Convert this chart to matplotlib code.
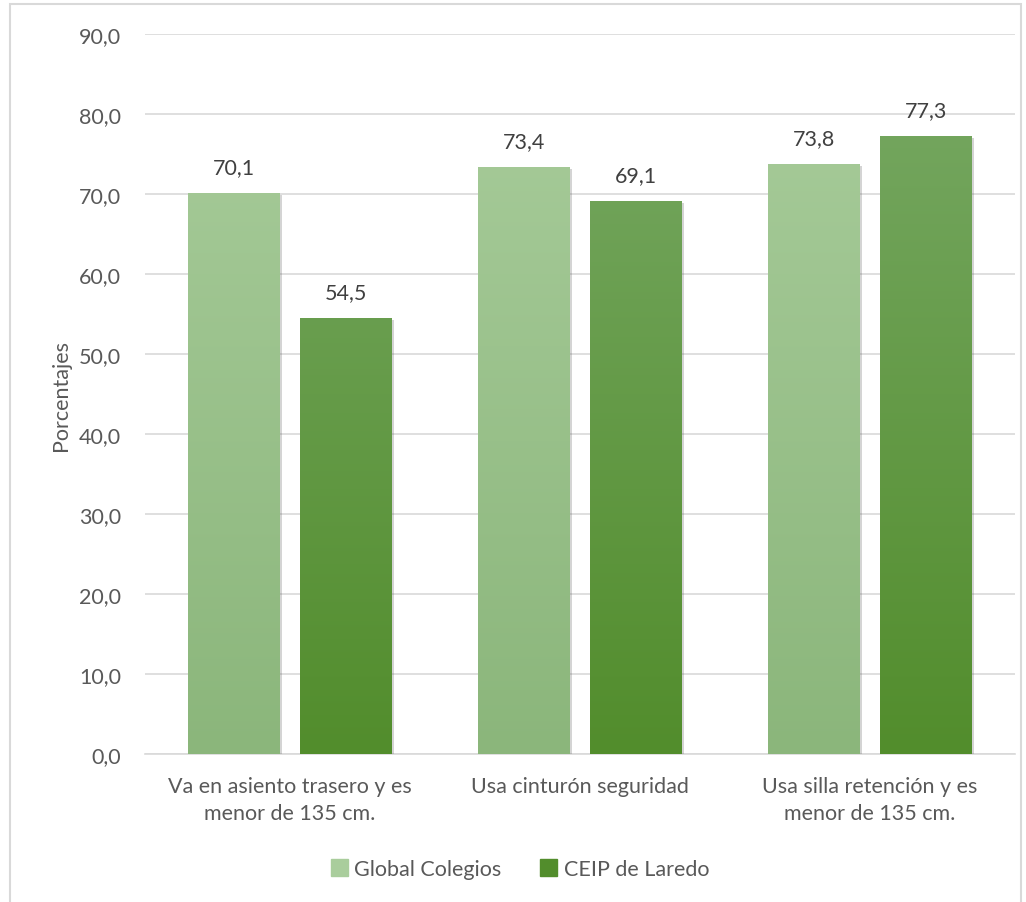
import numpy as np
import matplotlib
matplotlib.use("Agg")
import matplotlib.pyplot as plt
import matplotlib.patheffects as pe
from matplotlib.colors import LinearSegmentedColormap
from matplotlib.patches import Rectangle

plt.rcParams['font.family'] = ['Lato', 'DejaVu Sans']

categories = ["Va en asiento trasero y es\nmenor de 135 cm.",
              "Usa cinturón seguridad",
              "Usa silla retención y es\nmenor de 135 cm."]
series_names = ["Global Colegios", "CEIP de Laredo"]
global_vals = [70.1, 73.4, 73.8]
laredo_vals = [54.5, 69.1, 77.3]
yticks = [0, 10, 20, 30, 40, 50, 60, 70, 80, 90]

text_col = "#595959"
light_top, light_bot = "#A9CD9C", "#8BB67B"
dark_top, dark_bot = "#78A965", "#528D2C"
fs = 15.5

fig = plt.figure(figsize=(10.26, 9.03), dpi=100)
ax = fig.add_axes([0.1413, 0.1639, 0.848, 0.7973])

# outer frame
fig.patches.append(Rectangle((10 / 1026, -0.1), 1011 / 1026, 1.1 - 5 / 903,
                             transform=fig.transFigure, fill=False,
                             edgecolor="#D9D9D9", linewidth=1.5))

x = np.arange(len(categories))
w = 0.317
off = 0.194


def grad_bars(xs, vals, top, bot, label):
    bars = ax.bar(xs, vals, w, color=bot, label=label, zorder=3,
                  path_effects=[pe.SimplePatchShadow(offset=(1.5, -1.5), alpha=0.25,
                                                     shadow_rgbFace="#555555"),
                                pe.Normal()])
    cmap = LinearSegmentedColormap.from_list("g", [bot, top])
    grad = np.linspace(0, 1, 256).reshape(-1, 1)
    for b in bars:
        x0 = b.get_x()
        im = ax.imshow(grad, cmap=cmap, origin="lower", aspect="auto",
                       extent=[x0, x0 + b.get_width(), 0, 90], zorder=4)
        im.set_clip_path(b)
    for xi, v in zip(xs, vals):
        ax.text(xi, v + 2.0, f"{v:.1f}".replace(".", ","), ha="center",
                va="bottom", fontsize=fs, color="#404040", zorder=5)
    return bars


grad_bars(x - off, global_vals, light_top, light_bot, series_names[0])
grad_bars(x + off, laredo_vals, dark_top, dark_bot, series_names[1])

ax.set_xlim(-0.5, len(categories) - 0.5)
ax.set_ylim(0, 90)
ax.set_yticks(yticks)
ax.set_yticklabels([f"{t:.1f}".replace(".", ",") for t in yticks],
                   fontsize=fs, color=text_col)
ax.set_xticks(x)
ax.set_xticklabels(categories, fontsize=fs, color=text_col, linespacing=1.45)
ax.tick_params(axis="both", length=0)
ax.tick_params(axis="y", pad=17)
ax.tick_params(axis="x", pad=16)
ax.grid(axis="y", color="#D9D9D9", linewidth=1.2, zorder=0)
ax.set_axisbelow(True)
for s in ["top", "right", "left"]:
    ax.spines[s].set_visible(False)
ax.spines["bottom"].set_color("#D9D9D9")
ax.spines["bottom"].set_linewidth(1.2)

ax.set_ylabel("Porcentajes", fontsize=fs, color=text_col)
ax.yaxis.set_label_coords(-0.085, 0.5)

handles = [Rectangle((0, 0), 1, 1, color=light_top), Rectangle((0, 0), 1, 1, color=dark_bot)]
fig.legend(handles, series_names, loc="center", bbox_to_anchor=(520 / 1026, 1 - 870 / 903),
           ncol=2, frameon=False, fontsize=fs, labelcolor=text_col,
           handlelength=0.8, handleheight=0.8, handletextpad=0.3, columnspacing=1.8)

fig.savefig("out.png", dpi=100, facecolor="white")
